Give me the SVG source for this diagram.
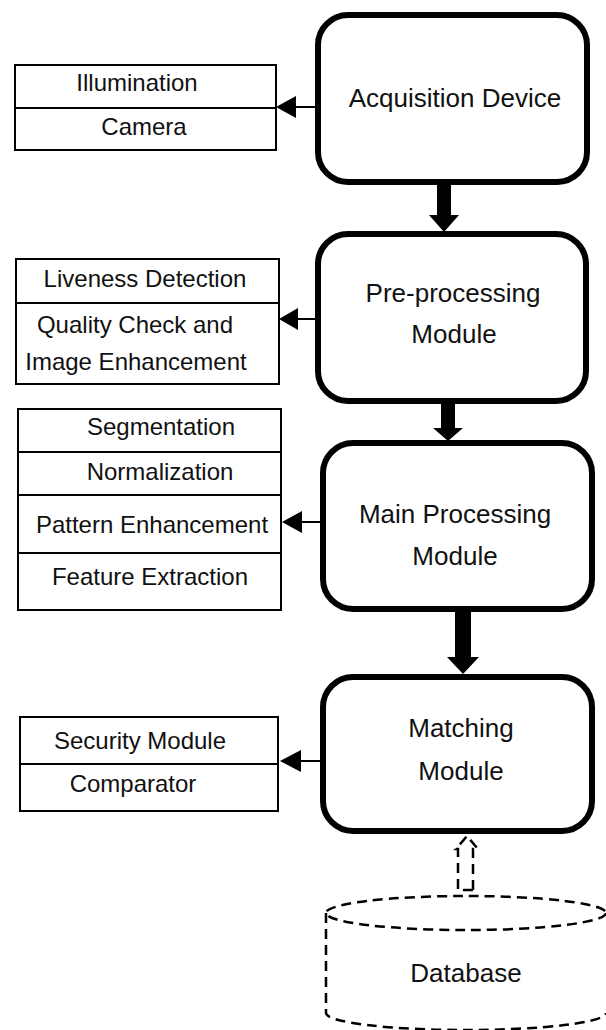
<svg xmlns="http://www.w3.org/2000/svg" width="606" height="1030" viewBox="0 0 606 1030">
<style>
  .main{fill:#fff;stroke:#000;stroke-width:6}
  .sub{fill:#fff;stroke:#000;stroke-width:2}
  .div{stroke:#000;stroke-width:2}
  .t{font-family:"Liberation Sans",Arial,sans-serif;fill:#111;text-anchor:middle}
  .big{font-size:26px}
  .sm{font-size:24px}
  .thin{stroke:#000;stroke-width:2;fill:none}
  .thick{fill:#000}
  .dash{fill:none;stroke:#000;stroke-width:2.5;stroke-dasharray:10 6}
</style>
<defs>
  <marker id="ah" markerWidth="10" markerHeight="11" refX="1" refY="5.5" orient="auto" markerUnits="userSpaceOnUse" viewBox="0 0 10 11">
    <path d="M10,0 L0,5.5 L10,11 Z" fill="#000"/>
  </marker>
</defs>

<g id="connectors">
  <!-- thin arrows to side boxes -->
  <line class="thin" x1="318" y1="107" x2="296" y2="107"/>
  <path d="M296,96 L276,107 L296,118 Z" fill="#000"/>
  <line class="thin" x1="318" y1="319" x2="298" y2="319"/>
  <path d="M298,308 L279,319 L298,330 Z" fill="#000"/>
  <line class="thin" x1="323" y1="522" x2="302" y2="522"/>
  <path d="M302,511 L282,522 L302,533 Z" fill="#000"/>
  <line class="thin" x1="323" y1="761" x2="301" y2="761"/>
  <path d="M301,750 L280,761 L301,772 Z" fill="#000"/>
  <!-- thick arrows -->
  <path class="thick" d="M437,184 L451,184 L451,215 L459,215 L444,232 L429,215 L437,215 Z"/>
  <path class="thick" d="M441,403 L455,403 L455,428 L463,428 L448,441 L433,428 L441,428 Z"/>
  <path class="thick" d="M455,611 L471,611 L471,657 L479,657 L463,674 L447,657 L455,657 Z"/>
  <!-- dashed hollow arrow from database -->
  <path class="dash" d="M473,890 L473,849 L478,849 L467,836 L456,849 L458,849 L458,890 Z"/>
</g>

<g id="acquisition">
  <rect class="main" x="318" y="15" width="269" height="167" rx="30"/>
  <text class="t big" x="455" y="107">Acquisition  Device</text>
</g>
<g id="acq-parts">
  <rect class="sub" x="15" y="65" width="261" height="85"/>
  <line class="div" x1="15" y1="108" x2="276" y2="108"/>
  <text class="t sm" x="137" y="91">Illumination</text>
  <text class="t sm" x="144" y="135">Camera</text>
</g>

<g id="preprocessing">
  <rect class="main" x="318" y="234" width="268" height="167" rx="30"/>
  <text class="t big" x="453" y="302">Pre-processing</text>
  <text class="t big" x="454" y="343">Module</text>
</g>
<g id="pre-parts">
  <rect class="sub" x="16" y="259" width="263" height="125"/>
  <line class="div" x1="16" y1="303" x2="279" y2="303"/>
  <text class="t sm" x="145" y="287">Liveness Detection</text>
  <text class="t sm" x="135" y="333">Quality Check and</text>
  <text class="t sm" x="136" y="370">Image Enhancement</text>
</g>

<g id="mainprocessing">
  <rect class="main" x="323" y="443" width="269" height="166" rx="30"/>
  <text class="t big" x="455" y="523">Main Processing</text>
  <text class="t big" x="455" y="565">Module</text>
</g>
<g id="main-parts">
  <rect class="sub" x="18" y="409" width="263" height="201"/>
  <line class="div" x1="18" y1="452" x2="281" y2="452"/>
  <line class="div" x1="18" y1="495" x2="281" y2="495"/>
  <line class="div" x1="18" y1="553" x2="281" y2="553"/>
  <text class="t sm" x="161" y="435">Segmentation</text>
  <text class="t sm" x="160" y="480">Normalization</text>
  <text class="t sm" x="152" y="533">Pattern Enhancement</text>
  <text class="t sm" x="150" y="585">Feature Extraction</text>
</g>

<g id="matching">
  <rect class="main" x="323" y="677" width="269" height="154" rx="30"/>
  <text class="t big" x="461" y="737">Matching</text>
  <text class="t big" x="461" y="780">Module</text>
</g>
<g id="match-parts">
  <rect class="sub" x="20" y="717" width="258" height="94"/>
  <line class="div" x1="20" y1="764" x2="278" y2="764"/>
  <text class="t sm" x="140" y="749">Security Module</text>
  <text class="t sm" x="133" y="792">Comparator</text>
</g>

<g id="database">
  <ellipse class="dash" cx="466" cy="913" rx="140" ry="17"/>
  <path class="dash" d="M326,913 L326,1013 A140,17 0 0 0 606,1013"/>
  <text class="t big" x="466" y="982">Database</text>
</g>
</svg>
